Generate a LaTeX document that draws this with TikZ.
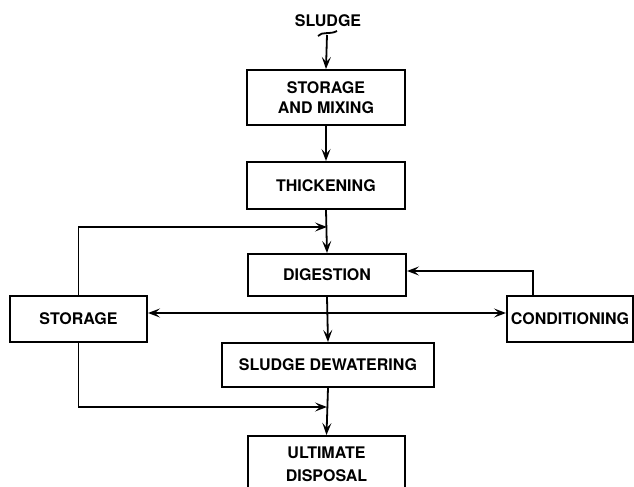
\documentclass[tikz,border=0pt]{standalone}
\usepackage{fontspec}
\setmainfont{TeX Gyre Heros}
\usetikzlibrary{arrows.meta, positioning, calc}

\begin{document}
\begin{tikzpicture}[x=0.5pt, y=-0.5pt,
      box/.style={draw, line width=1pt, inner sep=1pt, align=center,
                  font=\fontsize{8}{10}\selectfont\bfseries},
      flow/.style={line width=0.9pt, -{Stealth[length=6pt, width=4.5pt, inset=2.5pt]}}]
    \useasboundingbox (0,0) rectangle (634,487);
    \clip (0,0) rectangle (634,487);
    \node[font=\fontsize{8}{10}\selectfont\bfseries] (src) at (328,21) {SLUDGE};
    \node[box, minimum width=79pt, minimum height=27.5pt] (mix)   at (326,97.5) {STORAGE\\AND MIXING};
    \node[box, minimum width=79pt, minimum height=23.5pt] (thick) at (326,185.5) {THICKENING};
    \node[box, minimum width=79pt, minimum height=21pt]   (dig)   at (327,275) {DIGESTION};
    \node[box, minimum width=68.5pt, minimum height=23pt] (stor)  at (78.5,319) {STORAGE};
    \node[box, minimum width=63pt, minimum height=23pt]   (cond)  at (570,319) {CONDITIONING};
    \node[box, minimum width=106pt, minimum height=22pt]  (dew)   at (328,365) {SLUDGE DEWATERING};
    \node[box, minimum width=78.5pt, minimum height=28.5pt, anchor=north,
          font=\fontsize{8}{11.5}\selectfont\bfseries] (ult) at (326.5,435)
         {ULTIMATE\\DISPOSAL};
    \coordinate (cut) at (327,35);
    \coordinate (jtop) at (327,227);
    \coordinate (jbot) at (327,407);
    % feed break mark
    \draw[line width=0.9pt] (318,36) .. controls (322,31) and (330,35) .. (337,31);
    \draw[flow] (cut) -- (mix.north);
    \foreach \a/\b in {mix/thick, thick/dig, dig/dew, dew/ult}
      \draw[flow] (\a.south) -- (\b.north);
    \draw[flow] (stor.north) |- (jtop);
    \draw[flow] (stor.south) |- (jbot);
    \draw[flow, {Stealth[length=6pt, width=4.5pt, inset=2.5pt]}-{Stealth[length=6pt, width=4.5pt, inset=2.5pt]}]
         ([yshift=3pt]stor.east) -- ([yshift=3pt]cond.west);
    \draw[flow] ([xshift=-18.5pt]cond.north) |- ([yshift=2pt]dig.east);
  \end{tikzpicture}
\end{document}
